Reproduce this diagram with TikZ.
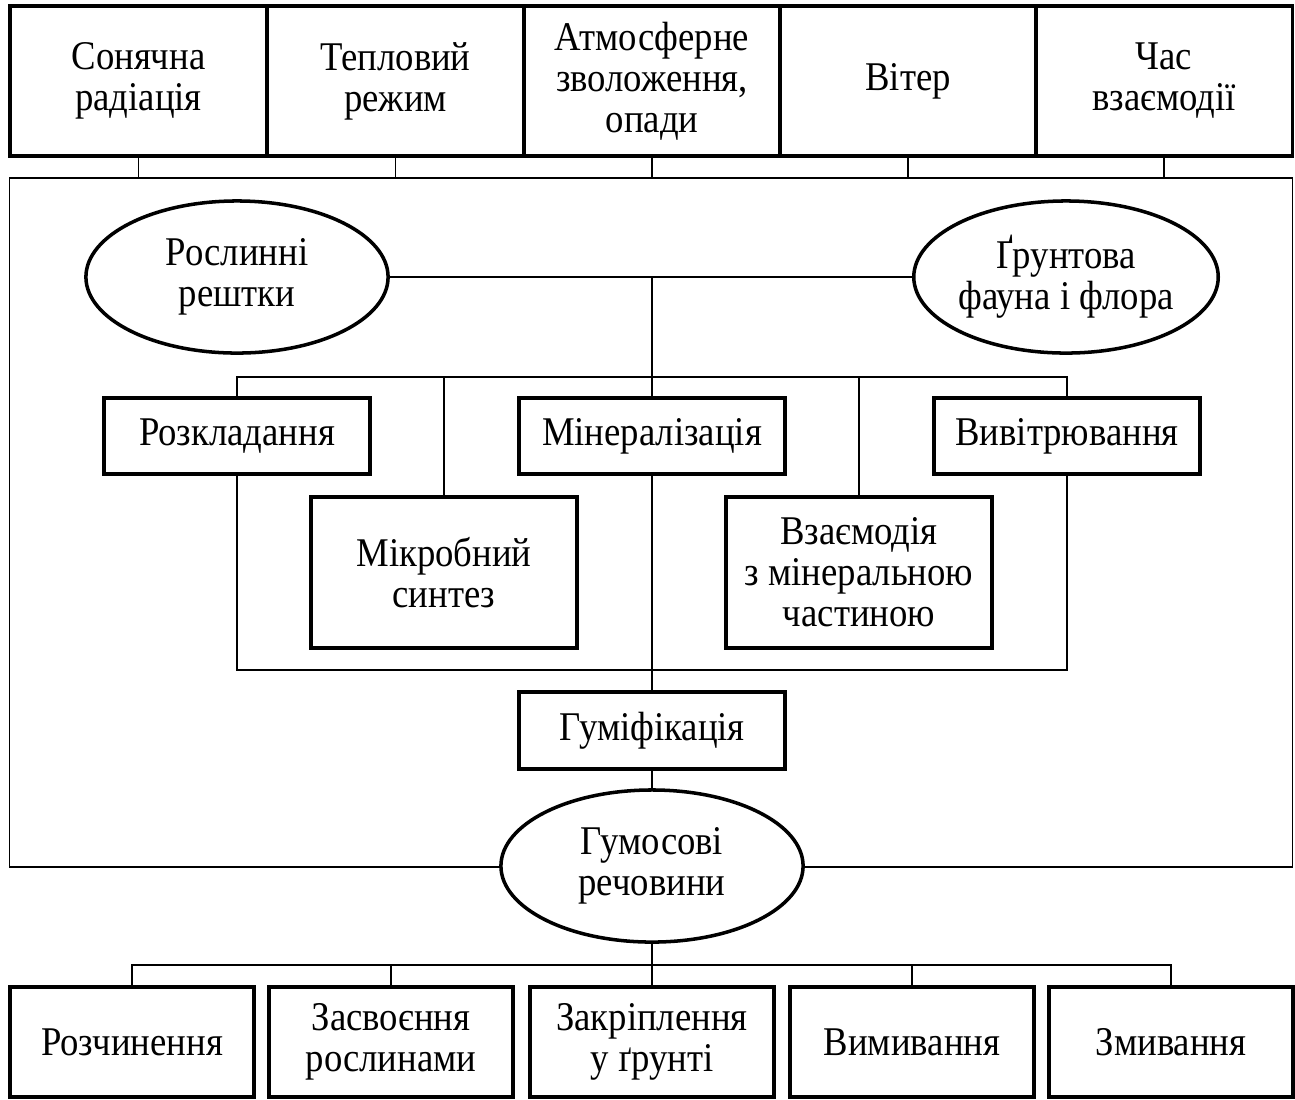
\documentclass[tikz,border=0pt]{standalone}
\usepackage{fontspec}
\setmainfont{Liberation Serif}[FakeStretch=0.9]
\usetikzlibrary{shapes.geometric}

\begin{document}
\begin{tikzpicture}[x=0.01cm,y=-0.01cm,font=\fontsize{11.6}{11.7}\selectfont,
  factor/.style={draw,line width=1pt,minimum width=2.565cm,minimum height=1.5cm,align=center,inner sep=0pt},
  proc/.style={draw,line width=1pt,fill=white,minimum width=2.66cm,align=center,inner sep=0pt},
  oval/.style={ellipse,draw,line width=1pt,fill=white,minimum width=3.02cm,minimum height=1.52cm,align=center,inner sep=0pt},
  result/.style={draw,line width=1pt,minimum width=2.44cm,minimum height=1.1cm,align=center,inner sep=0pt},
  link/.style={line width=0.45pt}]
\useasboundingbox (0,0) rectangle (1295,1099);
% factors above the soil
\foreach \x/\n/\t in {138.5/f1/{Сонячна\\радіація},395.5/f2/{Тепловий\\режим},652/f3/{Атмосферне\\зволоження,\\опади},908/f4/{Вітер},1164/f5/{Час\\взаємодії}}
  {\node[factor] (\n) at (\x,81) {\t};}
\node[draw,link,minimum width=12.82cm,minimum height=6.89cm,inner sep=0pt] (frame) at (651,522.5) {};
\foreach \i in {1,...,5}{\draw[link] (f\i.south) -- (f\i.south |- frame.north);}
% sources
\node[oval] (plant) at (237,277) {Рослинні\\рештки};
\node[oval] (fauna) at (1066,277) {Ґрунтова\\фауна і флора};
% processes
\node[proc,minimum height=0.76cm] (rozk) at (237,436) {Розкладання};
\node[proc,minimum height=0.76cm] (miner) at (652,436) {Мінералізація};
\node[proc,minimum height=0.76cm] (vyvit) at (1067,436) {Вивітрювання};
\node[proc,minimum height=1.51cm] (mikro) at (444,572.5) {Мікробний\\синтез};
\node[proc,minimum height=1.51cm] (vzaem) at (859,572.5) {Взаємодія\\з мінеральною\\частиною};
\node[proc,minimum height=0.77cm] (humif) at (652,730.5) {Гуміфікація};
\node[oval] (hum) at (652,866) {Гумосові\\речовини};
\coordinate (up) at (652,377); \coordinate (down) at (652,670); \coordinate (out) at (652,965);
\draw[link] (plant) -- (fauna);
\draw[link] (miner.north) -- (miner.north |- plant.east);
\draw[link] (rozk.north) |- (up) -| (vyvit.north);
\draw[link] (mikro.north) -- (mikro.north |- up);
\draw[link] (vzaem.north) -- (vzaem.north |- up);
\draw[link] (rozk.south) |- (down) -| (vyvit.south);
\draw[link] (miner.south) -- (humif.north);
\draw[link] (humif.south) -- (hum.north);
% fate of humus
\foreach \x/\n/\t in {132/r1/{Розчинення},391/r2/{Засвоєння\\рослинами},652/r3/{Закріплення\\у ґрунті},912/r4/{Вимивання},1171/r5/{Змивання}}
  {\node[result] (\n) at (\x,1042) {\t};}
\draw[link] (hum.south) -- (out);
\draw[link] (r1.north) |- (out) -| (r5.north);
\draw[link] (r2.north) -- (r2.north |- out);
\draw[link] (r3.north) -- (out);
\draw[link] (r4.north) -- (r4.north |- out);
\end{tikzpicture}
\end{document}
